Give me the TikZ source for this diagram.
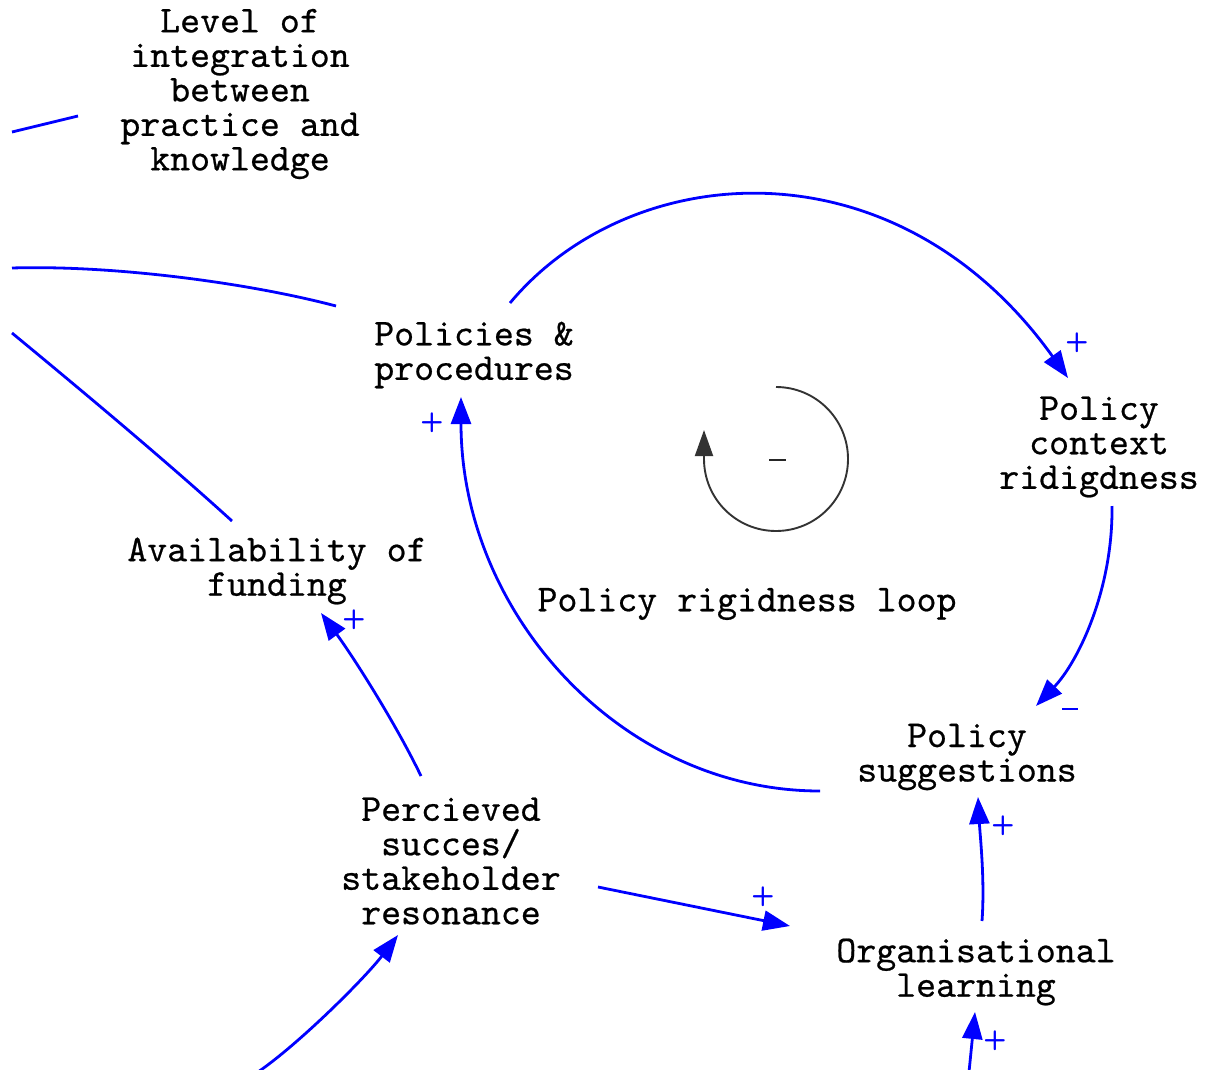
\documentclass[tikz,border=0pt]{standalone}
\usepackage{fontspec}
\newfontfamily\labelfont{lmmono10-regular.otf}[FakeBold=0.6]
\usetikzlibrary{arrows.meta}
\begin{document}
\begin{tikzpicture}[x=1pt,y=-1pt,
  var/.style={align=center,inner sep=0pt,font=\labelfont\fontsize{38}{34.5}\selectfont,text=black},
  link/.style={draw=blue,line width=2.8pt},
  causal/.style={link,-{Triangle[length=27pt,width=20pt]}},
  pol/.style={text=blue,inner sep=0pt,font=\sffamily\bfseries\fontsize{27}{27}\selectfont},
  loopmark/.style={draw=black!80,line width=1.9pt,-{Triangle[length=26pt,width=18pt]}}]
\useasboundingbox (0,0) rectangle (1207,1070);

% variables
\node[var] (lev) at (240,94) {Level of\\integration\\between\\practice and\\knowledge};
\node[var] (pp)  at (474,355) {Policies \&\\procedures};
\node[var] (pc)  at (1099,447) {Policy\\context\\ridigdness};
\node[var] (af)  at (277,571) {Availability of\\funding};
\node[var] (ps)  at (967,757) {Policy\\suggestions};
\node[var] (psr) at (451,861) {Percieved\\succes/\\stakeholder\\resonance};
\node[var] (ol)  at (976,972) {Organisational\\learning};
\node[var] (lbl) at (747,604) {Policy rigidness loop};

% loop marker
\coordinate (lc) at (776,459);
\draw[loopmark] ([shift={(0,-72)}]lc) arc[start angle=-90,end angle=180,radius=72] -- ++(0,-29);
\draw[black!85,line width=2.2pt] (769,460) -- (786,460);

% free ends towards variables outside the view
\coordinate (e1) at (12,132);
\coordinate (e2) at (12,268);
\coordinate (e3) at (12,333);
\coordinate (e4) at (258,1072);
\coordinate (e5) at (969,1072);

% causal links inside the loop
\draw[causal] ([shift={(36,-52)}]pp.center) .. controls (631,158) and (896,138) .. ([shift={(-31,-69)}]pc.center);
\draw[causal] ([shift={(13,59)}]pc.center) .. controls (1113,590) and (1078,662) .. ([shift={(69,-51)}]ps.center);
\draw[causal] ([shift={(-147,34)}]ps.center) .. controls (622,791) and (461,614) .. ([shift={(-13,42)}]pp.center);

% other causal links
\draw[causal] ([shift={(-30,-85)}]psr.center) .. controls (395,722) and (352,655) .. ([shift={(44,42)}]af.center);
\draw[causal] ([shift={(147,26)}]psr.center) -- ([shift={(-186,-46)}]ol.center);
\draw[causal] ([shift={(6,-51)}]ol.center) .. controls (985,880) and (980,835) .. ([shift={(11,40)}]ps.center);
\draw[causal] (e5) -- ([shift={(-1,40)}]ol.center);
\draw[causal] (e4) .. controls (300,1043) and (365,978) .. ([shift={(-53,74)}]psr.center);

% links leaving the view
\draw[link] ([shift={(-45,-50)}]af.center) .. controls (165,460) and (75,385) .. (e3);
\draw[link] ([shift={(-138,-49)}]pp.center) .. controls (245,282) and (110,265) .. (e2);
\draw[link] ([shift={(-162,22)}]lev.center) -- (e1);

% polarities
\node[pol] (s1) at (1077,343) {+};
\draw[blue,line width=2.2pt] (1062,709) -- (1078,709);
\node[pol] (s3) at (432,423) {+};
\node[pol] (s4) at (354,620) {+};
\node[pol] (s5) at (763,897) {+};
\node[pol] (s6) at (1003,826) {+};
\node[pol] (s7) at (995,1041) {+};
\end{tikzpicture}
\end{document}
